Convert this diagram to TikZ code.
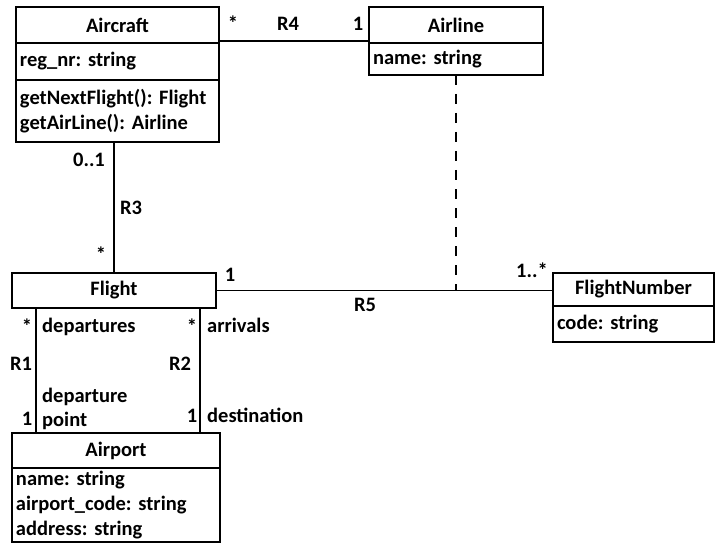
\documentclass[tikz,border=0pt]{standalone}
\usepackage{fontspec}
\setmainfont{Carlito}
\frenchspacing
\begin{document}
\begin{tikzpicture}[x=1bp, y=-1bp,
    every node/.style={font=\fontsize{20.5bp}{25bp}\selectfont\bfseries},
    cls/.style={draw, line width=1.6pt, inner sep=0pt, outer sep=0pt},
    attr/.style={cls, align=left, inner xsep=4bp, anchor=north},
    lbl/.style={inner sep=0pt, anchor=base}]
    \useasboundingbox (0, 0) rectangle (715, 543);

    % classes
    \node (aircraft) at (117.5, 25) [cls, minimum width=203bp, minimum height=36bp] {Aircraft};
    \node (aircraftattr) at (aircraft.south) [attr, text width=195bp, minimum height=37bp] {reg\_nr: string};
    \node (aircraftops) at (aircraftattr.south) [attr, text width=195bp, minimum height=62bp] {getNextFlight(): Flight\\getAirLine(): Airline};
    \node (airline) at (456, 25) [cls, minimum width=174bp, minimum height=36bp] {Airline};
    \node (airlineattr) at (airline.south) [attr, text width=166bp, minimum height=32bp] {name: string};
    \node (flight) at (114, 290.5) [cls, minimum width=204bp, minimum height=35bp] {Flight};
    \node (flightnr) at (633.5, 289.5) [cls, minimum width=161bp, minimum height=33bp] {FlightNumber};
    \node (flightnrattr) at (flightnr.south) [attr, text width=153bp, minimum height=36bp] {code: string};
    \node (airport) at (116, 450.5) [cls, minimum width=208bp, minimum height=35bp] {Airport};
    \node (airportattr) at (airport.south) [attr, text width=200bp, minimum height=74bp] {name: string\\airport\_code: string\\address: string};

    % associations
    \draw[line width=1.6pt] ([yshift=2bp]aircraft.south east) to ([yshift=2bp]airline.south west);
    \draw[line width=1.6pt] (flight.north) to (flight.north |- aircraftops.south);
    \draw[line width=1.6pt] (flight.east) to (flight.east -| flightnr.west);
    \draw[line width=1.6pt, dash pattern=on 10bp off 9bp] (airlineattr.south) to (airlineattr.south |- flight.east);
    \draw[line width=1.6pt] ([xshift=24bp]flight.south west) to ([xshift=24bp]flight.south west |- airport.north);
    \draw[line width=1.6pt] ([xshift=-16bp]flight.south east) to ([xshift=-16bp]flight.south east |- airport.north);

    % labels
    \node (r4a) at (233, 31) [lbl] {*};
    \node (r4) at (288, 31) [lbl] {R4};
    \node (r4b) at (358, 31) [lbl] {1};
    \node (r3a) at (89, 167) [lbl] {0..1};
    \node (r3) at (131, 215) [lbl] {R3};
    \node (r3b) at (101, 262) [lbl] {*};
    \node (r5a) at (230, 282) [lbl] {1};
    \node (r5) at (365, 311) [lbl] {R5};
    \node (r5b) at (532, 278) [lbl] {1..*};
    \node (r1a) at (27, 333) [lbl] {*};
    \node (dep) at (42, 332) [lbl, anchor=base west] {departures};
    \node (r2a) at (192, 333) [lbl] {*};
    \node (arr) at (207, 332) [lbl, anchor=base west] {arrivals};
    \node (r1) at (21, 370) [lbl] {R1};
    \node (r2) at (180, 370) [lbl] {R2};
    \node (deppt) at (42, 402) [lbl, anchor=base west] {departure};
    \node (point) at (42, 426) [lbl, anchor=base west] {point};
    \node (r1b) at (27, 425) [lbl] {1};
    \node (r2b) at (192, 422) [lbl] {1};
    \node (dest) at (207, 422) [lbl, anchor=base west] {destination};
\end{tikzpicture}
\end{document}
